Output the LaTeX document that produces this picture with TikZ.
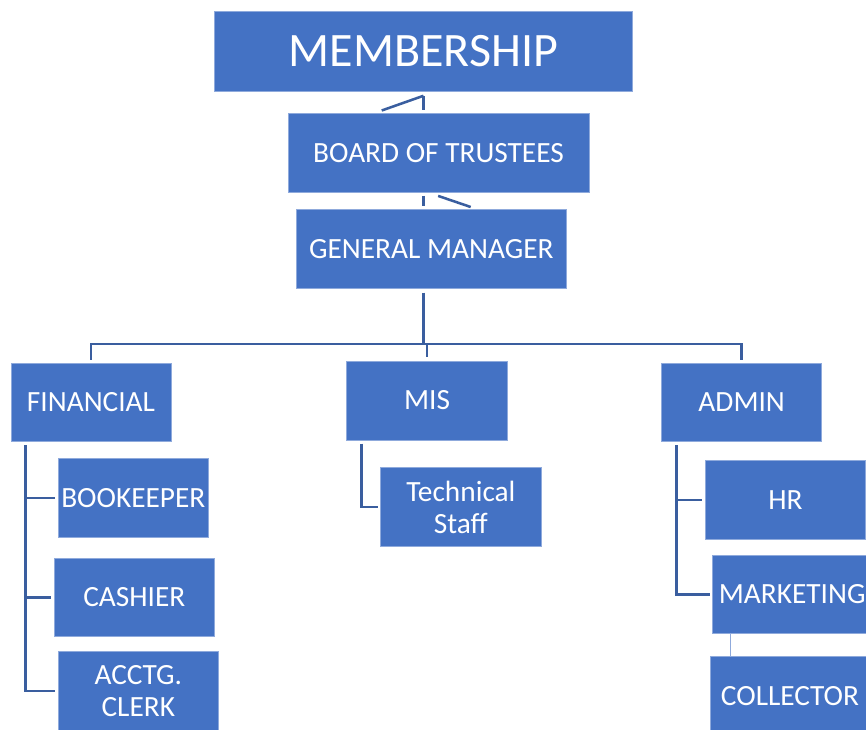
\documentclass[tikz,border=0pt]{standalone}
\usepackage{fontspec}
\setmainfont{Carlito}
\usetikzlibrary{calc}
\definecolor{boxblue}{HTML}{4472C4}
\definecolor{boxedge}{HTML}{8FAADC}
\definecolor{linkblue}{HTML}{3A5E9F}
\definecolor{thinlink}{HTML}{8FAADC}
\begin{document}
\begin{tikzpicture}[x=0.75pt,y=-0.75pt,
  box/.style={fill=boxblue,draw=boxedge,line width=0.4pt,inner sep=0pt,
    text=white,align=center,font=\fontsize{22pt}{23.8pt}\selectfont},
  bigbox/.style={box,font=\fontsize{36pt}{40pt}\selectfont},
  size/.style 2 args={minimum width=#1*0.75pt,minimum height=#2*0.75pt},
  conn/.style={draw=linkblue,line width=1.9pt},
  thinconn/.style={draw=thinlink,line width=0.9pt}]
\clip (0,0) rectangle (866,729);
\fill[white] (0,0) rectangle (866,729);

% top of the chart
\node[bigbox,size={418}{80}] (mem) at (423.5,51.5) {MEMBERSHIP};
\node[box,size={301}{78.6}] (bot) at (438.5,153) {BOARD OF TRUSTEES};
\node[box,size={270.7}{78.6}] (gm) at (431.35,249) {GENERAL MANAGER};

% departments
\node[box,size={160}{78.4}] (fin) at (91,402.5) {FINANCIAL};
\node[box,size={160.6}{79}] (mis) at (427,400.5) {MIS};
\node[box,size={160}{78.4}] (adm) at (741.7,402.5) {ADMIN};

% staff under FINANCIAL
\node[box,size={150}{79}] (bk) at (133.3,497.8) {BOOKEEPER};
\node[box,size={160}{78.4}] (cash) at (134.3,597.5) {CASHIER};
\node[box,size={160}{78.8}] (clerk) at (138.3,691.1) {ACCTG.\\CLERK};

% staff under MIS
\node[box,size={160.3}{79}] (tech) at (460.85,507.2) {Technical\\Staff};

% staff under ADMIN
\node[box,size={160.7}{78.6}] (hr) at (785.35,500) {HR};
\node[box,size={159.7}{78}] (mkt) at (792.15,594.3) {MARKETING};
\node[box,size={160}{78.3}] (col) at (790,695.85) {COLLECTOR};

% links between the top three boxes
\coordinate (mtip) at (381.7,110.5);
\coordinate (gtip) at (470.7,207);
\draw[conn] ([yshift=-3pt]mem.south) -- ([yshift=2.5pt]mem.south |- bot.north);
\draw[conn] ([yshift=-3pt]mem.south) -- (mtip);
\draw[conn] ([yshift=-2.5pt]mem.south |- bot.south) -- ([yshift=2.5pt]mem.south |- gm.north);
\draw[conn] ([xshift=11pt,yshift=-2.5pt]mem.south |- bot.south) -- (gtip);

% bus from the general manager to the departments
\coordinate (bus) at (0,344);
\draw[conn] ([yshift=-3pt]mem.south |- gm.south) -- (mem.south |- bus);
\draw[conn] ([yshift=2.5pt]fin.north) -- (fin.north |- bus) -- (adm.north |- bus) -- ([yshift=2.5pt]adm.north);
\draw[conn] (mis.north |- bus) -- ([yshift=2.5pt]mis.north);

% FINANCIAL branch
\coordinate (fs) at ($(fin.south west)+(14.7,3.3)$);
\draw[conn] (fs) |- ([xshift=-2.5pt]clerk.west);
\draw[conn] (fs |- bk.west) -- ([xshift=-2.5pt]bk.west);
\draw[conn] (fs |- cash.west) -- ([xshift=-2pt]cash.west);

% MIS branch
\coordinate (ms) at ($(mis.south west)+(15,3.3)$);
\draw[conn] (ms) |- ([xshift=-2.2pt]tech.west);

% ADMIN branch
\coordinate (as) at ($(adm.south west)+(15,3.3)$);
\draw[conn] (as) |- ([xshift=-1.8pt]mkt.west);
\draw[conn] (as |- hr.west) -- ([xshift=-2pt]hr.west);

% MARKETING to COLLECTOR
\coordinate (mc) at ($(mkt.south west)+(18.4,0)$);
\draw[thinconn] (mc) -- (mc |- col.north);
\end{tikzpicture}
\end{document}
